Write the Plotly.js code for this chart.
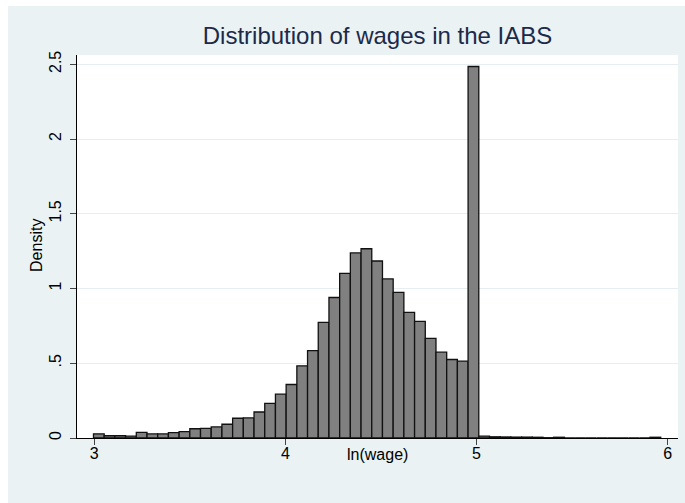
<!DOCTYPE html>
<html>
<head>
<meta charset="utf-8">
<script src="https://cdn.plot.ly/plotly-3.0.1.min.js"></script>
<style>
  html, body { margin: 0; padding: 0; background: #ffffff; }
  #chart { position: absolute; left: 8px; top: 6px; width: 677px; height: 497px; }
</style>
</head>
<body>
<div id="chart"></div>
<script>
// Histogram of ln(wage): 53 bins starting at ln(20), width 0.056
const binStart = 2.9957;
const binWidth = 0.056;
const density = [
  0.028, 0.015, 0.015, 0.012, 0.038, 0.027, 0.027, 0.036, 0.042, 0.062,
  0.065, 0.074, 0.092, 0.132, 0.134, 0.174, 0.232, 0.293, 0.358, 0.483,
  0.585, 0.773, 0.940, 1.101, 1.238, 1.266, 1.184, 1.064, 0.974, 0.840,
  0.780, 0.666, 0.574, 0.525, 0.514, 2.485, 0.012, 0.008, 0.007, 0.006,
  0.006, 0.005, 0.002, 0.005, 0, 0, 0, 0, 0, 0,
  0, 0, 0.005
];
const binCenters = density.map((_, i) => binStart + (i + 0.5) * binWidth);

const xTickVals = [3, 4, 5, 6];
const xTickText = ["3", "4", "5", "6"];
const yTickVals = [0, 0.5, 1, 1.5, 2, 2.5];
const yTickText = ["0", ".5", "1", "1.5", "2", "2.5"];
const yRange = [0, 2.562];

const trace = {
  type: 'bar',
  x: binCenters,
  y: density,
  width: binWidth,
  marker: { color: '#808080', line: { color: '#111111', width: 1.3 } },
  hoverinfo: 'x+y'
};

// invisible companion trace so the label axis (y2) is drawn
const labelTrace = {
  type: 'scatter', mode: 'markers',
  x: [binCenters[0]], y: [density[0]],
  yaxis: 'y2',
  marker: { opacity: 0 },
  hoverinfo: 'skip', showlegend: false
};

const layout = {
  width: 677,
  height: 497,
  paper_bgcolor: '#eaf2f3',
  plot_bgcolor: '#ffffff',
  margin: { l: 69, r: 7, t: 49, b: 65, pad: 0 },
  showlegend: false,
  bargap: 0,
  font: { family: 'Liberation Sans, Arial, sans-serif', color: '#000000', size: 16 },
  title: {
    text: 'Distribution of wages in the IABS',
    font: { size: 24, color: '#1c2a4a', family: 'Liberation Sans, Arial, sans-serif' },
    x: 0.5, xref: 'paper', xanchor: 'center',
    y: 1 - 30 / 497, yref: 'container', yanchor: 'middle'
  },
  xaxis: {
    range: [2.9094, 6.054],
    tickmode: 'array',
    tickvals: xTickVals,
    ticktext: xTickText,
    ticks: 'outside',
    ticklen: 6,
    tickwidth: 1,
    tickcolor: '#444444',
    ticklabelstandoff: -5,
    showline: true,
    linecolor: '#000000',
    linewidth: 1,
    showgrid: false,
    zeroline: false,
    tickfont: { size: 16 }
  },
  yaxis: {
    range: yRange,
    tickmode: 'array',
    tickvals: yTickVals,
    ticktext: yTickText,
    showticklabels: false,
    ticks: 'outside',
    ticklen: 6,
    tickwidth: 1,
    tickcolor: '#444444',
    showline: true,
    linecolor: '#000000',
    linewidth: 1,
    showgrid: true,
    gridcolor: '#e6eef0',
    gridwidth: 1,
    zeroline: false
  },
  yaxis2: {
    overlaying: 'y',
    side: 'left',
    range: yRange,
    tickmode: 'array',
    tickvals: yTickVals,
    ticktext: yTickText,
    tickangle: -90,
    ticks: 'outside',
    ticklen: 9,
    tickcolor: 'rgba(0,0,0,0)',
    showline: false,
    showgrid: false,
    zeroline: false,
    tickfont: { size: 16 }
  },
  annotations: [
    {
      text: 'ln(wage)', showarrow: false,
      xref: 'paper', yref: 'paper', x: 0.5, y: -0.0436,
      xanchor: 'center', yanchor: 'middle',
      font: { size: 16, color: '#000000' }
    },
    {
      text: 'Density', showarrow: false, textangle: -90,
      xref: 'paper', yref: 'paper', x: -0.0666, y: 0.504,
      xanchor: 'center', yanchor: 'middle',
      font: { size: 16, color: '#000000' }
    }
  ]
};

Plotly.newPlot('chart', [trace, labelTrace], layout, { displayModeBar: false, staticPlot: true });
</script>
</body>
</html>
